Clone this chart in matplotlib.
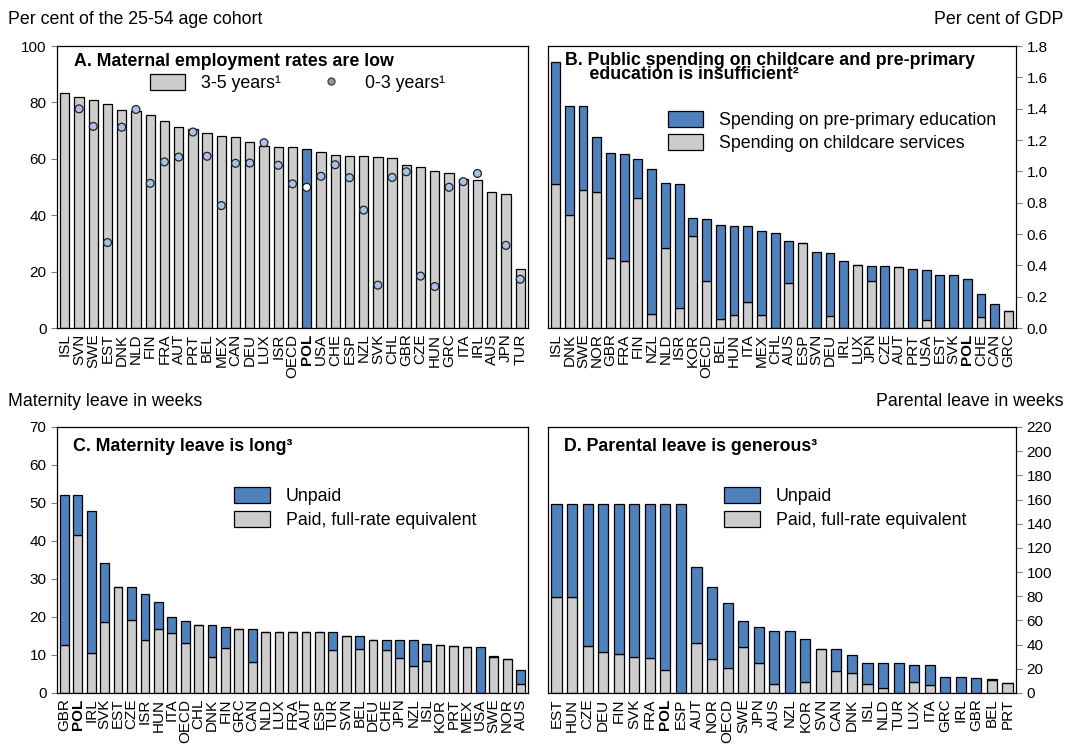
import numpy as np
import matplotlib.pyplot as plt
from matplotlib.patches import Patch
from matplotlib.lines import Line2D
from matplotlib.legend_handler import HandlerLine2D

plt.rcParams['font.family'] = ['Liberation Sans', 'DejaVu Sans']
plt.rcParams['font.size'] = 11

BLUE = '#4f81bd'
GREY = '#cccccc'
DOT = '#a9c1ea'
BIG = 12.8  # titles, captions, legends

# Panel A: maternal employment rates
a_countries = ["ISL", "SVN", "SWE", "EST", "DNK", "NLD", "FIN", "FRA", "AUT", "PRT", "BEL",
               "MEX", "CAN", "DEU", "LUX", "ISR", "OECD", "POL", "USA", "CHE", "ESP", "NZL",
               "SVK", "CHL", "GBR", "CZE", "HUN", "GRC", "ITA", "IRL", "AUS", "JPN", "TUR"]
a_3to5 = [83.4, 81.8, 80.9, 79.3, 77.4, 76.9, 75.5, 73.4, 71.4, 70.5, 69.0,
          68.2, 67.6, 65.8, 64.5, 64.3, 64.1, 63.5, 62.4, 61.3, 60.9, 60.9,
          60.6, 60.3, 57.9, 57.1, 55.7, 55.1, 52.8, 52.5, 48.3, 47.4, 20.9]
a_0to3 = [np.nan, 77.7, 71.5, 30.3, 71.2, 77.5, 51.3, 58.9, 60.6, 69.5, 60.9,
          43.4, 58.4, 58.5, 65.7, 57.7, 51.1, 49.9, 53.8, 57.9, 53.3, 41.8,
          15.2, 53.4, 55.4, 18.4, 14.7, 49.9, 51.9, 54.8, np.nan, 29.3, 17.3]

# Panel B: public spending on childcare and pre-primary education (% of GDP)
b_countries = ["ISL", "DNK", "SWE", "NOR", "GBR", "FRA", "FIN", "NZL", "NLD", "ISR", "KOR",
               "OECD", "BEL", "HUN", "ITA", "MEX", "CHL", "AUS", "ESP", "SVN", "DEU", "IRL",
               "LUX", "JPN", "CZE", "AUT", "PRT", "USA", "EST", "SVK", "POL", "CHE", "CAN", "GRC"]
b_total = [1.70, 1.42, 1.42, 1.22, 1.12, 1.11, 1.08, 1.015, 0.925, 0.92, 0.70,
           0.696, 0.655, 0.65, 0.65, 0.62, 0.605, 0.553, 0.545, 0.486, 0.478, 0.426,
           0.402, 0.398, 0.396, 0.389, 0.376, 0.368, 0.34, 0.34, 0.314, 0.216, 0.151, 0.106]
b_childcare = [0.92, 0.72, 0.88, 0.87, 0.45, 0.43, 0.83, 0.09, 0.51, 0.13, 0.59,
               0.30, 0.056, 0.086, 0.164, 0.082, 0.0, 0.285, 0.545, 0.0, 0.078, 0.0,
               0.402, 0.30, 0.0, 0.389, 0.0, 0.05, 0.0, 0.0, 0.0, 0.071, 0.0, 0.106]

# Panel C: maternity leave (weeks)
c_countries = ["GBR", "POL", "IRL", "SVK", "EST", "CZE", "ISR", "HUN", "ITA", "OECD", "CHL",
               "DNK", "FIN", "GRC", "CAN", "NLD", "LUX", "FRA", "AUT", "ESP", "TUR", "SVN",
               "BEL", "DEU", "CHE", "JPN", "NZL", "ISL", "KOR", "PRT", "MEX", "USA", "SWE",
               "NOR", "AUS"]
c_total = [52, 52, 48, 34.1, 28, 28, 26.1, 24, 20, 19, 18,
           18, 17.5, 16.9, 16.9, 16, 16, 16, 16, 16, 16, 14.9,
           14.9, 14, 14, 14, 14, 12.9, 12.7, 12.5, 12, 12, 9.8,
           8.9, 6]
c_paid = [12.7, 41.5, 10.6, 18.6, 28, 19.3, 13.9, 16.8, 15.9, 13.2, 18,
          9.6, 11.8, 16.9, 8.2, 16, 16, 16, 16, 16, 11.2, 14.9,
          11.6, 14, 11.2, 9.2, 7.0, 8.3, 12.7, 12.5, 12, 0, 9.4,
          8.9, 2.5]

# Panel D: parental leave (weeks)
d_countries = ["EST", "HUN", "CZE", "DEU", "FIN", "SVK", "FRA", "POL", "ESP", "AUT", "NOR",
               "OECD", "SWE", "JPN", "AUS", "NZL", "KOR", "SVN", "CAN", "DNK", "ISL", "NLD",
               "TUR", "LUX", "ITA", "GRC", "IRL", "GBR", "BEL", "PRT"]
d_total = [156, 156, 156, 156, 156, 156, 156, 156, 156, 103.9, 87.6,
           74.1, 59.8, 54.5, 51.2, 51.2, 44.9, 36.4, 36.4, 31.7, 25, 25,
           25, 23.1, 23.1, 13.2, 13.2, 12.4, 11.8, 8.3]
d_paid = [79, 79, 38.8, 33.9, 32, 30, 28.7, 18.7, 0, 41, 28.1,
          20.9, 37.7, 25, 7.2, 0, 8.8, 36.4, 18.5, 16.3, 7.4, 4.1,
          0, 9.4, 6.3, 0, 0, 0, 10.5, 8.3]

W, H = 1066, 744
fig = plt.figure(figsize=(W / 100, H / 100), dpi=100)


class RightMarker(HandlerLine2D):
    # puts the single legend marker close to the label, like the original
    def get_xdata(self, legend, xdescent, ydescent, width, height, fontsize):
        xd, xm = super().get_xdata(legend, xdescent, ydescent, width, height, fontsize)
        return xd, [width - xdescent - 0.25 * fontsize]


def make_ax(l, t, r, b):
    return fig.add_axes([l / W, 1 - b / H, (r - l) / W, (b - t) / H])


def style(ax, labels, side):
    n = len(labels)
    ax.set_xlim(-0.55, n - 0.45)
    ax.set_xticks(range(n))
    ax.set_xticklabels(labels, rotation=90, fontsize=11)
    for lab in ax.get_xticklabels():
        if lab.get_text() == "POL":
            lab.set_fontweight('bold')
    ax.tick_params(axis='x', length=0, pad=4)
    ax.tick_params(axis='y', length=4, color='#808080', labelsize=11)
    if side == 'right':
        ax.yaxis.tick_right()
    for s in ax.spines.values():
        s.set_linewidth(0.9)


def add_legend(ax, handles, labels, x, y, **kw):
    opts = dict(frameon=False, loc='upper left', bbox_to_anchor=(x, y), handlelength=2.0,
                handleheight=1.0, handletextpad=0.9, fontsize=BIG, borderaxespad=0,
                borderpad=0, labelspacing=0.3)
    opts.update(kw)
    return ax.legend(handles, labels, **opts)


# --- Panel A
axA = make_ax(57, 46, 528, 328)
xa = np.arange(len(a_countries))
colsA = [BLUE if c == "POL" else GREY for c in a_countries]
axA.bar(xa, a_3to5, width=0.65, color=colsA, edgecolor='black', linewidth=0.9)
dotcols = ['white' if c == "POL" else DOT for c in a_countries]
axA.scatter(xa, a_0to3, s=32, c=dotcols, edgecolors='#222222', linewidths=0.9, zorder=3)
axA.set_ylim(0, 100)
axA.set_yticks(range(0, 101, 20))
style(axA, a_countries, 'left')
axA.text(0.037, 0.975, "A. Maternal employment rates are low", transform=axA.transAxes,
         fontweight='bold', fontsize=BIG, va='top')
hA = [Patch(facecolor=GREY, edgecolor='black', linewidth=0.9),
      Line2D([], [], marker='o', linestyle='none', markersize=5, markerfacecolor='#999999',
             markeredgecolor='#444444')]
add_legend(axA, hA, ["3-5 years¹", "0-3 years¹"], 0.197, 0.90, ncol=2, columnspacing=1.8,
           handler_map={Line2D: RightMarker(numpoints=1)})

# --- Panel B
axB = make_ax(548, 46, 1016, 328)
xb = np.arange(len(b_countries))
b_pre = [t - c for t, c in zip(b_total, b_childcare)]
axB.bar(xb, b_childcare, width=0.65, color=GREY, edgecolor='black', linewidth=0.9)
axB.bar(xb, b_pre, bottom=b_childcare, width=0.65, color=BLUE, edgecolor='black', linewidth=0.9)
axB.set_ylim(0, 1.8)
axB.set_yticks(np.arange(0, 1.81, 0.2))
axB.set_yticklabels([f"{v:.1f}" for v in np.arange(0, 1.81, 0.2)])
style(axB, b_countries, 'right')
axB.text(0.036, 0.98, "B. Public spending on childcare and pre-primary\n     education is insufficient²",
         transform=axB.transAxes, fontweight='bold', fontsize=BIG, va='top', linespacing=0.8)
hB = [Patch(facecolor=BLUE, edgecolor='black', linewidth=0.9),
      Patch(facecolor=GREY, edgecolor='black', linewidth=0.9)]
add_legend(axB, hB, ["Spending on pre-primary education", "Spending on childcare services"],
           0.256, 0.77)

# --- Panel C
axC = make_ax(57, 427, 528, 693)
xc = np.arange(len(c_countries))
c_unpaid = [t - p for t, p in zip(c_total, c_paid)]
axC.bar(xc, c_paid, width=0.65, color=GREY, edgecolor='black', linewidth=0.9)
axC.bar(xc, c_unpaid, bottom=c_paid, width=0.65, color=BLUE, edgecolor='black', linewidth=0.9)
axC.set_ylim(0, 70)
axC.set_yticks(range(0, 71, 10))
style(axC, c_countries, 'left')
axC.text(0.035, 0.96, "C. Maternity leave is long³", transform=axC.transAxes,
         fontweight='bold', fontsize=BIG, va='top')
hC = [Patch(facecolor=BLUE, edgecolor='black', linewidth=0.9),
      Patch(facecolor=GREY, edgecolor='black', linewidth=0.9)]
add_legend(axC, hC, ["Unpaid", "Paid, full-rate equivalent"], 0.376, 0.773)

# --- Panel D
axD = make_ax(548, 427, 1016, 693)
xd = np.arange(len(d_countries))
d_unpaid = [t - p for t, p in zip(d_total, d_paid)]
axD.bar(xd, d_paid, width=0.65, color=GREY, edgecolor='black', linewidth=0.9)
axD.bar(xd, d_unpaid, bottom=d_paid, width=0.65, color=BLUE, edgecolor='black', linewidth=0.9)
axD.set_ylim(0, 220)
axD.set_yticks(range(0, 221, 20))
style(axD, d_countries, 'right')
axD.text(0.035, 0.96, "D. Parental leave is generous³", transform=axD.transAxes,
         fontweight='bold', fontsize=BIG, va='top')
add_legend(axD, hC, ["Unpaid", "Paid, full-rate equivalent"], 0.376, 0.773)

# axis captions
fig.text(8 / W, 1 - 20 / H, "Per cent of the 25-54 age cohort", fontsize=BIG, va='center')
fig.text(1063 / W, 1 - 20 / H, "Per cent of GDP", fontsize=BIG, va='center', ha='right')
fig.text(8 / W, 1 - 401 / H, "Maternity leave in weeks", fontsize=BIG, va='center')
fig.text(1063 / W, 1 - 401 / H, "Parental leave in weeks", fontsize=BIG, va='center', ha='right')

fig.savefig("out.png", dpi=100)
